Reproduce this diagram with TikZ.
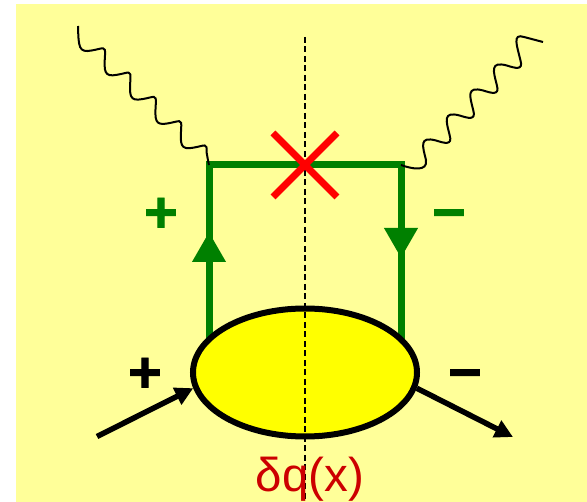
\documentclass[tikz,border=0pt]{standalone}
\usepackage{fontspec}
\setmainfont{Liberation Sans}[BoldFeatures={FakeBold=1.2}]
\usetikzlibrary{arrows.meta,shapes.geometric,backgrounds}
\definecolor{hatter}{HTML}{FFFF99}
\definecolor{sarga}{HTML}{FFFF00}
\definecolor{zold}{HTML}{008000}
\definecolor{piros}{HTML}{CC0000}
\definecolor{vilagos}{HTML}{FF0000}
\tikzset{
  photon/.style={line width=2pt},
  quark/.style={line width=7pt,draw=zold},
  qtip/.style={-{Triangle[length=30pt,width=32pt]}},
  beam/.style={line width=5.5pt,-{Triangle[length=18pt,width=18pt]}},
  spin/.style={inner sep=0pt,anchor=base,font=\fontsize{58}{58}\selectfont\bfseries},
  blob/.style={ellipse,draw,line width=6pt,fill=sarga,inner sep=0pt,
    minimum width=224pt,minimum height=128pt},
  cut/.style={line width=2.5pt,dash pattern=on 6pt off 3.5pt},
  kereszt/.style={line width=7pt,vilagos},
}
\begin{document}
\begin{tikzpicture}[x=1pt,y=-1pt]
  \useasboundingbox (0,0) rectangle (587,502);
  \coordinate (tl) at (209,165);
  \coordinate (tr) at (401,165);
  \coordinate (upa) at (209,232);
  \coordinate (dna) at (401,258);
  \coordinate (gl) at (78,26);
  \coordinate (gr) at (543,42);
  \coordinate (inb) at (97,436.5);
  \coordinate (outb) at (513,437);
  \coordinate (cuttop) at (305,37);
  \coordinate (cutbot) at (305,502);
  \node[blob] (core) at (305,372.5) {};
  \begin{scope}[on background layer]
    \fill[hatter] (16,4) rectangle (587,502);
    \draw[quark] (tl |- core.center) -- (tl) -- (tr) -- (tr |- core.center);
    \draw[quark,qtip] (tl |- core.center) -- (upa);
    \draw[quark,qtip] (tr) -- (dna);
  \end{scope}
  % photons
  \draw[photon] (gl)
    \foreach \i [evaluate=\i as \px using 79.6+25.4*\i,
                 evaluate=\i as \py using 31+24.3*\i] in {0,...,4} {
      .. controls (\px-1,\py+16) and (\px-1,\py+22) .. (\px+12,\py+19.5)
      .. controls (\px+24,\py+17.5) and (\px+26,\py+14) .. (\px+25.4,\py+24.3)}
    .. controls (207.5,157) and (208,161) .. (tl);
  \draw[photon] (tr) .. controls (412,169) and (428,172) .. (426,160)
    \foreach \i [evaluate=\i as \px using 426+23.6*\i,
                 evaluate=\i as \py using 160-25*\i] in {0,...,3} {
      .. controls (\px-3.5,\py-14) and (\px-7,\py-24) .. (\px+10,\py-19.5)
      .. controls (\px+18,\py-17) and (\px+27,\py-14) .. (\px+23.6,\py-25)}
    .. controls (517,46) and (512,33) .. (524,37) -- (gr);
  % beam
  \draw[beam] (inb) -- (core.188);
  \draw[beam] (core.-8.5) -- (outb);
  \draw[cut] (cuttop) -- (cutbot);
  \node[spin,zold] (gplus) at (161,232) {+};
  \node[spin,zold] (gminus) at (449,232) {−};
  \node[spin] (bplus) at (145,392) {+};
  \node[spin] (bminus) at (465,392) {−};
  \node[anchor=base,text=piros,font=\fontsize{47.5}{47.5}\selectfont] (dq) at (310,492) {δq(x)};
  \draw[kereszt] (273,133) -- (337,197);
  \draw[kereszt] (337,133) -- (273,197);
\end{tikzpicture}
\end{document}
